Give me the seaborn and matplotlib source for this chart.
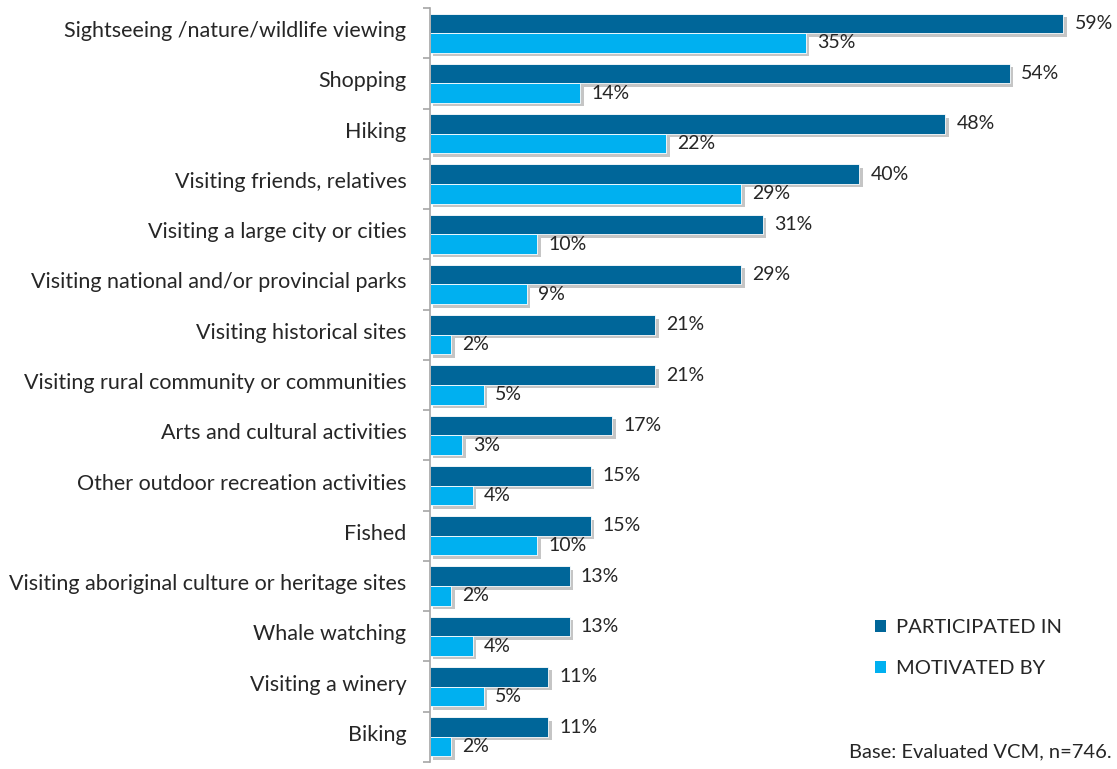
import numpy as np
import pandas as pd
import matplotlib
matplotlib.use("Agg")
import matplotlib.pyplot as plt
import matplotlib.patheffects as pe
from matplotlib.patches import Patch
import seaborn as sns

categories = [
    "Sightseeing /nature/wildlife viewing",
    "Shopping",
    "Hiking",
    "Visiting friends, relatives",
    "Visiting a large city or cities",
    "Visiting national and/or provincial parks",
    "Visiting historical sites",
    "Visiting rural community or communities",
    "Arts and cultural activities",
    "Other outdoor recreation activities",
    "Fished",
    "Visiting aboriginal culture or heritage sites",
    "Whale watching",
    "Visiting a winery",
    "Biking",
]
participated = [59, 54, 48, 40, 31, 29, 21, 21, 17, 15, 15, 13, 13, 11, 11]
motivated = [35, 14, 22, 29, 10, 9, 2, 5, 3, 4, 10, 2, 4, 5, 2]
series_names = ["PARTICIPATED IN", "MOTIVATED BY"]
colors = ["#006699", "#00B0F0"]

df = pd.DataFrame({
    "activity": categories * 2,
    "value": participated + motivated,
    "series": [series_names[0]] * len(categories) + [series_names[1]] * len(categories),
})

sns.set_style("white")
plt.rcParams["font.family"] = ["Lato", "DejaVu Sans"]
text_color = "#262626"

fig = plt.figure(figsize=(11.17, 7.69), dpi=100)
ax = fig.add_axes([430 / 1117, 7 / 769, 1 - 430 / 1117, 754 / 769])

sns.barplot(data=df, y="activity", x="value", hue="series", order=categories,
            hue_order=series_names, palette=colors, width=0.78, dodge=True,
            ax=ax, legend=False, saturation=1)

shadow = [pe.SimplePatchShadow(offset=(2.5, -2.5), shadow_rgbFace="#8c8c8c", alpha=0.5), pe.Normal()]
for cont in ax.containers:
    for p in cont.patches:
        p.set_edgecolor("white")
        p.set_linewidth(0.6)
        p.set_path_effects(shadow)
    ax.bar_label(cont, labels=[f"{int(round(v))}%" for v in cont.datavalues],
                 padding=8, fontsize=14, color=text_color)

ax.set_xlim(0, 64)
ax.set_ylim(len(categories) - 0.5, -0.5)
ax.set_xlabel("")
ax.set_ylabel("")
ax.set_xticks([])
for s in ["top", "right", "bottom"]:
    ax.spines[s].set_visible(False)
ax.spines["left"].set_color("#A6A6A6")
ax.spines["left"].set_linewidth(1.2)

# category labels at centers, separator ticks at boundaries
ax.set_yticks(np.arange(-0.5, len(categories) + 0.5, 1))
ax.set_yticklabels([])
ax.tick_params(axis="y", which="major", left=True, length=5, width=1.2,
               color="#A6A6A6", direction="out")
ax.set_yticks(np.arange(len(categories)) - 0.08, minor=True)
ax.set_yticklabels(categories, minor=True, fontsize=15.5, color=text_color)
ax.tick_params(axis="y", which="minor", left=False, length=0, pad=17)

handles = [Patch(facecolor=c, edgecolor="none") for c in colors]
fig.legend(handles, series_names, loc="upper left", bbox_to_anchor=(857 / 1117, 1 - 601 / 769),
           frameon=False, fontsize=14.5, handlelength=0.55, handleheight=0.55,
           handletextpad=0.5, labelspacing=1.2, labelcolor=text_color)

fig.text(1112 / 1117, 1 - 760 / 769, "Base: Evaluated VCM, n=746.", ha="right", va="bottom",
         fontsize=14.5, color=text_color)

fig.savefig("out.png", dpi=100, facecolor="white")
